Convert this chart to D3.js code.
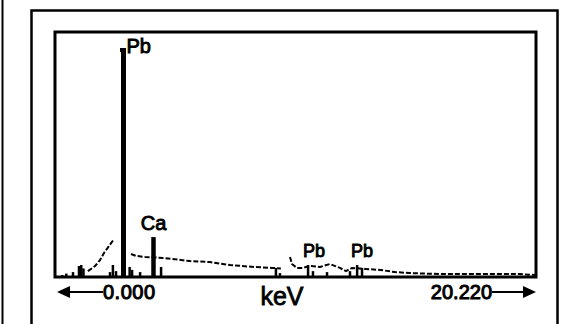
<!DOCTYPE html>
<html>
<head>
<meta charset="utf-8">
<script src="https://cdn.jsdelivr.net/npm/d3@7"></script>
<style>
  html, body { margin: 0; padding: 0; background: #fff; }
  svg { display: block; }
  text { font-family: "Liberation Sans", Arial, sans-serif; fill: #000; stroke: #000; }
</style>
</head>
<body>
<svg id="chart" width="568" height="324"></svg>
<script>
// ---- data (energy in keV, intensity in arbitrary counts) ----
const peakKeV    = [-0.40, -0.22, 0.08, 0.35, 0.45, 0.55, 1.74, 1.87, 2.01, 2.345, 2.62, 2.73, 3.09, 3.69, 4.03, 9.18, 9.36, 10.62, 10.84, 11.47, 12.50, 12.82, 13.04];
const peakCounts = [ 0.8,   1.4,  2.0,  4.5,  4.9,  3.5,  2.0,  4.9,  2.4,  93.5,  4.1,  2.9,  2.0, 16.3,  4.1,  3.7,  1.6,   4.9,   2.4,   2.0,   2.4,   4.9,   3.7];

const bgKeV    = [0.75, 1.07, 1.29, 1.47, 1.70, 1.92, 2.30, 2.68, 2.91, 3.31, 4.12, 5.33, 6.22, 7.12, 8.20, 9.00, 9.40, 9.70, 9.81, 9.90, 10.12, 10.39, 10.71, 11.16, 11.60, 12.05, 12.32, 12.59, 13.18, 13.85, 14.52, 15.19, 16.54, 18.33, 20.12, 20.80];
const bgCounts = [2.4,  4.5,  6.9,  9.8, 12.7, 15.5, null,  9.4,  8.6,  8.2,  7.8,  6.5,  6.1,  4.9,  4.1,  3.7,  3.5,  null,  8.2,  5.3,  3.7,   3.7,   4.5,   4.1,   5.3,   3.7,   2.4,   3.7,   3.3,   2.9,   2.0,   1.6,   1.2,   1.2,   1.2,   0.8];

const labelText   = ["Pb", "Ca", "Pb", "Pb"];
const labelKeV    = [2.48, 3.69, 10.89, 13.04];
const labelCounts = [91.4, 19.2, 8.2, 8.2];
const labelAnchor = ["start", "middle", "middle", "middle"];

const rangeLabels = ["0.000", "20.220"];
const axisTitle = "keV";

// ---- layout ----
const svg = d3.select("#chart");
const plot = { left: 55, top: 32, right: 536, bottom: 277 };

const x = d3.scaleLinear().domain([-0.726, 20.84]).range([plot.left, plot.right]);
const y = d3.scaleLinear().domain([0, 100]).range([plot.bottom, plot.top]);

// far-left edge line and outer frame
svg.append("line").attr("x1", 2.5).attr("x2", 2.5).attr("y1", 0).attr("y2", 324)
  .attr("stroke", "#000").attr("stroke-width", 2);
svg.append("path").attr("d", "M31.5,330 V10.5 H557.5 V330")
  .attr("fill", "none").attr("stroke", "#000").attr("stroke-width", 2.5);

// background continuum (dashed)
const bgData = bgKeV.map((k, i) => ({ k, c: bgCounts[i] }));
svg.append("path")
  .datum(bgData)
  .attr("fill", "none")
  .attr("stroke", "#000")
  .attr("stroke-width", 2)
  .attr("stroke-dasharray", "5,2")
  .attr("d", d3.line().defined(d => d.c != null).x(d => x(d.k)).y(d => y(d.c)));

// peaks (sticks)
const peaks = peakKeV.map((k, i) => ({ k, c: peakCounts[i] }));
svg.append("g").selectAll("line")
  .data(peaks).join("line")
  .attr("x1", d => x(d.k)).attr("x2", d => x(d.k))
  .attr("y1", y(0)).attr("y2", d => y(d.c))
  .attr("stroke", "#000")
  .attr("stroke-width", d => d.c > 50 ? 5 : d.c > 10 ? 4.5 : 2.5);

// small hook at top of main peak
const main = peaks.reduce((a, b) => (b.c > a.c ? b : a));
svg.append("path")
  .attr("d", `M${x(main.k) - 2.5},${y(main.c) + 4} V${y(main.c) + 1} H${x(main.k) + 2}`)
  .attr("fill", "none").attr("stroke", "#000").attr("stroke-width", 2);

// labels
svg.append("g").selectAll("text")
  .data(labelText).join("text")
  .attr("x", (d, i) => x(labelKeV[i]))
  .attr("y", (d, i) => y(labelCounts[i]))
  .attr("text-anchor", (d, i) => labelAnchor[i])
  .attr("font-size", (d, i) => i < 2 ? 20 : 18)
  .attr("stroke-width", 0.9)
  .text(d => d);

// plot frame
svg.append("rect")
  .attr("x", plot.left).attr("y", plot.top)
  .attr("width", plot.right - plot.left).attr("height", plot.bottom - plot.top)
  .attr("fill", "none").attr("stroke", "#000").attr("stroke-width", 3);

// range arrows and labels
const ay = 292;
svg.append("line").attr("x1", 66).attr("x2", 103).attr("y1", ay).attr("y2", ay)
  .attr("stroke", "#000").attr("stroke-width", 2);
svg.append("path").attr("d", `M57,${ay} L70,${ay - 6} L70,${ay + 6} Z`).attr("fill", "#000");
svg.append("line").attr("x1", 492).attr("x2", 526).attr("y1", ay).attr("y2", ay)
  .attr("stroke", "#000").attr("stroke-width", 2);
svg.append("path").attr("d", `M536,${ay} L523,${ay - 6} L523,${ay + 6} Z`).attr("fill", "#000");

svg.append("text").attr("x", 103).attr("y", 299).attr("font-size", 20).attr("stroke-width", 1)
  .attr("text-anchor", "start").attr("textLength", 52).text(rangeLabels[0]);
svg.append("text").attr("x", 492).attr("y", 299).attr("font-size", 20).attr("stroke-width", 1)
  .attr("text-anchor", "end").text(rangeLabels[1]);
svg.append("text").attr("x", 282).attr("y", 305).attr("font-size", 25).attr("stroke-width", 0.8)
  .attr("text-anchor", "middle").text(axisTitle);
</script>
</body>
</html>
